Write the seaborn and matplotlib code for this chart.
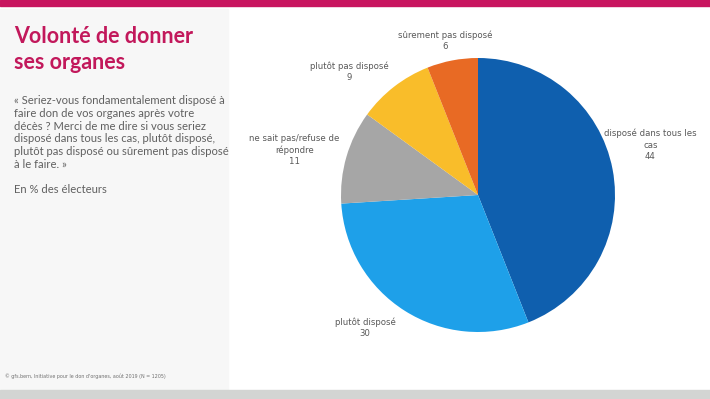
import matplotlib
matplotlib.use("Agg")
import matplotlib.pyplot as plt
import numpy as np
import seaborn as sns

categories = ["disposé dans tous les\ncas", "plutôt disposé", "ne sait pas/refuse de\nrépondre",
              "plutôt pas disposé", "sûrement pas disposé"]
values = [44, 30, 11, 9, 6]
colors = ["#0f5fae", "#1ea0e9", "#a6a6a6", "#f9bd2a", "#e86a24"]
# label placement: radius (in pie radii) and angle shift from wedge middle
label_dist = [1.31, 1.27, 1.38, 1.30, 1.15]
label_shift = [5.4, -8.0, 2.4, 8.3, 1.3]

title = "Volonté de donner\nses organes"
question = ("« Seriez-vous fondamentalement disposé à\nfaire don de vos organes après votre\n"
            "décès ? Merci de me dire si vous seriez\ndisposé dans tous les cas, plutôt disposé,\n"
            "plutôt pas disposé ou sûrement pas disposé\nà le faire. »")
unit = "En % des électeurs"
source = "© gfs.bern, Initiative pour le don d'organes, août 2019 (N = 1205)"

sns.set_theme(style="white")
plt.rcParams["font.family"] = ["Lato", "DejaVu Sans"]
narrow = dict(family="DejaVu Sans", fontstretch="condensed")

W, H = 710, 399
fig = plt.figure(figsize=(7.1, 3.99), dpi=100)
fig.patch.set_facecolor("white")

# frame pieces
fig.patches.append(plt.Rectangle((0, 1 - 6 / H), 1, 6 / H, transform=fig.transFigure, color="#c8155f", zorder=0))
fig.patches.append(plt.Rectangle((0, 9 / H), 228 / W, (390 - 6) / H - 3 / H, transform=fig.transFigure,
                                 color="#f7f7f7", zorder=0))
fig.patches.append(plt.Rectangle((0, 0), 1, 9 / H, transform=fig.transFigure, color="#d3d5d3", zorder=0))

fig.text(14 / W, 1 - 26 / H, title, color="#c2185b", fontsize=15.5, fontweight="bold",
         va="top", ha="left", linespacing=1.32)
fig.text(14 / W, 1 - 95 / H, question, color="#606060", fontsize=8.1, va="top", ha="left",
         linespacing=1.2)
fig.text(14 / W, 1 - 184 / H, unit, color="#606060", fontsize=8.1, va="top", ha="left")
fig.text(5 / W, 1 - 376 / H, source, color="#707070", fontsize=3.9, va="center", ha="left", **narrow)

cx, cy, r = 478, 195, 137
ax = fig.add_axes([(cx - r) / W, (H - cy - r) / H, 2 * r / W, 2 * r / H])
wedges, _ = ax.pie(values, colors=colors, startangle=90, counterclock=False,
                   wedgeprops=dict(linewidth=0))
ax.set_xlim(-1, 1)
ax.set_ylim(-1, 1)
ax.set_aspect("equal")
ax.axis("off")

for w, lab, v, d, s in zip(wedges, categories, values, label_dist, label_shift):
    ang = np.deg2rad((w.theta1 + w.theta2) / 2 + s)
    ax.text(d * np.cos(ang), d * np.sin(ang), f"{lab}\n{v}", ha="center", va="center",
            color="#595959", fontsize=6.8, linespacing=1.35, **narrow)

fig.savefig("out.png", dpi=100)
